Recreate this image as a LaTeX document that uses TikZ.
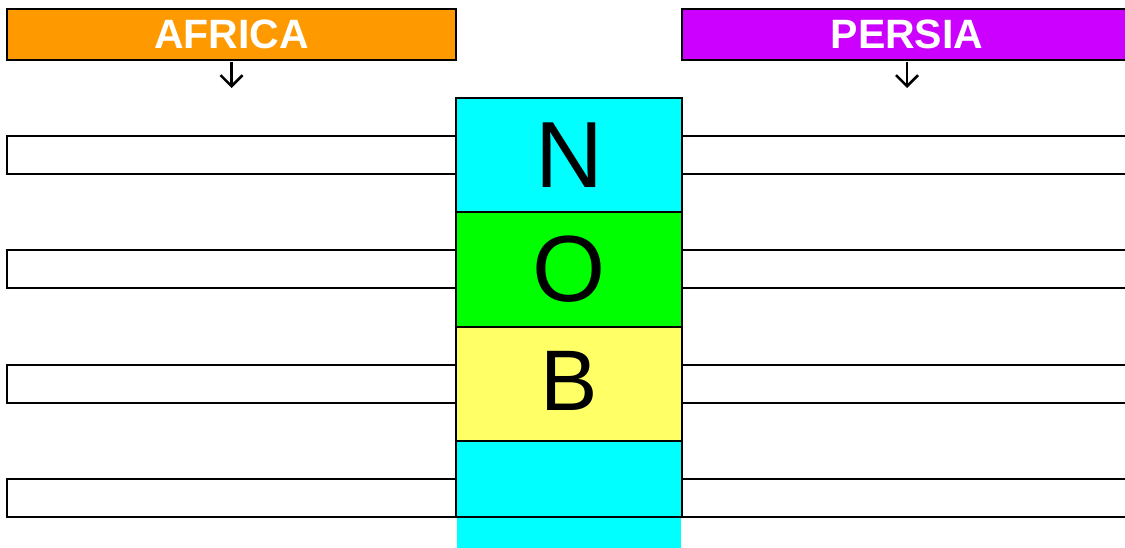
\documentclass[tikz,border=0pt]{standalone}
\usepackage{fontspec}
\setmainfont{Liberation Sans}
\usetikzlibrary{arrows.meta,positioning}

\definecolor{africaorange}{HTML}{FF9900}
\definecolor{persiapurple}{HTML}{CC00FF}
\definecolor{nobcyan}{HTML}{00FFFF}
\definecolor{nobgreen}{HTML}{00FF00}
\definecolor{nobyellow}{HTML}{FFFF66}

\begin{document}
\begin{tikzpicture}[
  x=1pt,y=-1pt,
  line width=2pt,
  head/.style={draw,inner sep=0pt,outer sep=0pt,minimum width=449pt,minimum height=51pt,
               text=white,font=\fontsize{41}{41}\selectfont\bfseries},
  box/.style={draw,fill=white,inner sep=0pt,outer sep=0pt,minimum width=449pt,minimum height=38pt},
  cell/.style={draw,inner sep=0pt,outer sep=0pt,minimum width=226pt,minimum height=114.3pt,
               font=\fontsize{94}{94}\selectfont},
  arr/.style={-{Straight Barb[length=11pt,width=22pt]},line width=2.5pt,shorten <=2pt}
]
\useasboundingbox (0,0) rectangle (1125,548);
\clip (0,0) rectangle (1125,548);

% headers
\node[head,fill=africaorange,anchor=north west] (africa) at (7,9) {\raisebox{-2pt}{AFRICA}};
\node[head,fill=persiapurple,right=226pt of africa,minimum width=450pt] (persia) {\raisebox{-2pt}{PERSIA}};
\coordinate[below=28pt of africa] (africaend);
\coordinate[below=28pt of persia] (persiaend);
\draw[arr] (africa) -- (africaend);
\draw[arr] (persia) -- (persiaend);

% column
\fill[nobcyan] (457,441) rectangle (681,548);
\node[cell,fill=nobcyan,anchor=north west] (n) at (456,98) {N};
\node[cell,fill=nobgreen,below=0pt of n] (o) {O};
\node[cell,fill=nobyellow,below=0pt of o] (b) {\fontsize{86}{86}\selectfont\raisebox{5pt}{B}};
\node[cell,fill=nobcyan,below=0pt of b,minimum height=76pt] (d) {};

% answer boxes
\node[box,left=0pt of n] (ln) {};
\node[box,left=0pt of o] (lo) {};
\node[box,left=0pt of b] (lb) {};
\node[box,anchor=south east] (ld) at (d.south west) {};
\node[box,right=0pt of n,minimum width=450pt] (rn) {};
\node[box,right=0pt of o,minimum width=450pt] (ro) {};
\node[box,right=0pt of b,minimum width=450pt] (rb) {};
\node[box,anchor=south west,minimum width=450pt] (rd) at (d.south east) {};
\end{tikzpicture}
\end{document}
